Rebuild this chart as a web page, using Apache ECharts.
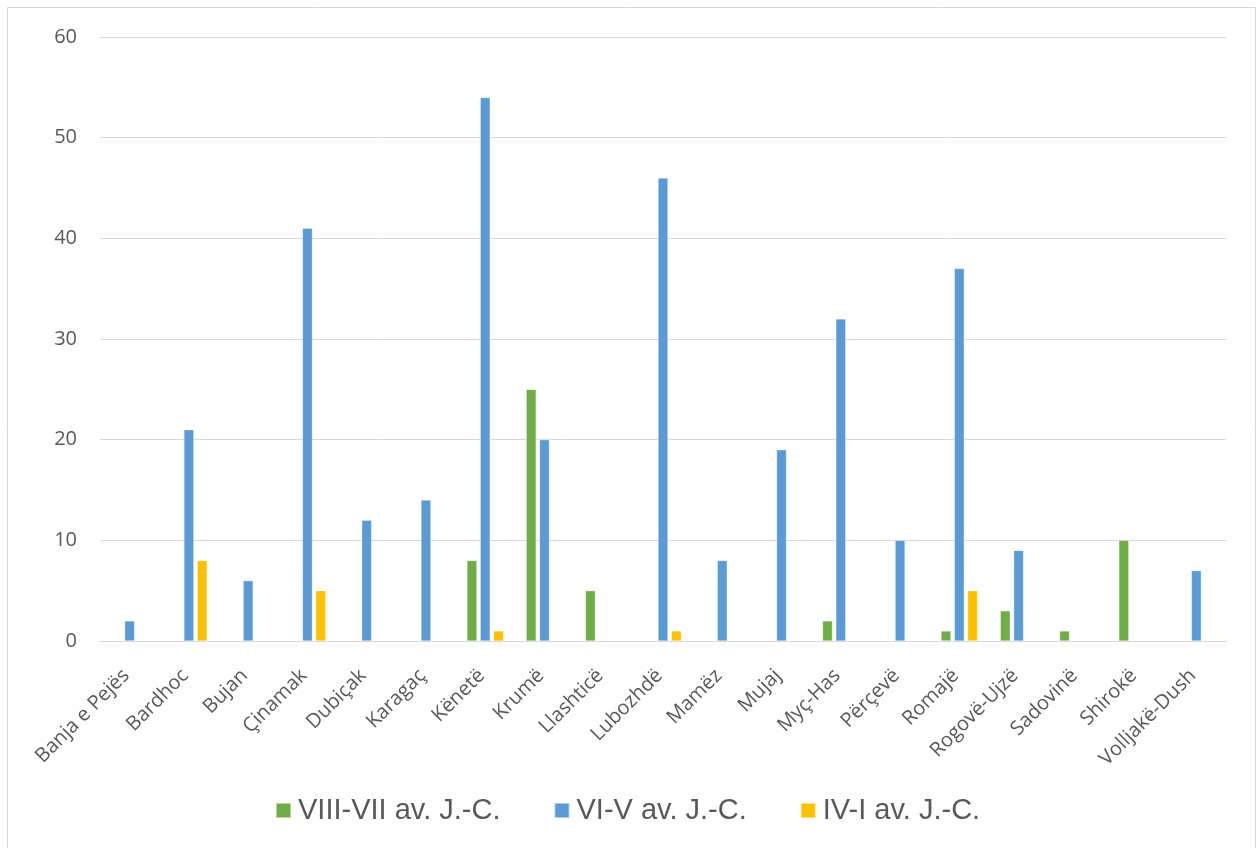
<!DOCTYPE html>
<html>
<head>
<meta charset="utf-8">
<script src="https://cdn.jsdelivr.net/npm/echarts@6/dist/echarts.min.js"></script>
<style>
html,body{margin:0;padding:0;background:#fff;}
#chart{width:1258px;height:848px;}
</style>
</head>
<body>
<div id="chart"></div>
<script>
const categories = ["Banja e Pejës","Bardhoc","Bujan","Çinamak","Dubiçak","Karagaç","Kënetë","Krumë","Llashticë","Lubozhdë","Mamëz","Mujaj","Myç-Has","Përçevë","Romajë","Rogovë-Ujzë","Sadovinë","Shirokë","Volljakë-Dush"];
const seriesNames = ["VIII-VII av. J.-C.","VI-V av. J.-C.","IV-I av. J.-C."];
const greenValues = [0,0,0,0,0,0,8,25,5,0,0,0,2,0,1,3,1,10,0];
const blueValues = [2,21,6,41,12,14,54,20,0,46,8,19,32,10,37,9,0,0,7];
const yellowValues = [0,8,0,5,0,0,1,0,0,1,0,0,0,0,5,0,0,0,0];
const yTicks = [0,10,20,30,40,50,60];

const colors = ["#70AD47","#5B9BD5","#FFC000"];
const chart = echarts.init(document.getElementById('chart'));
function mk(name, vals, color){
  return {
    name: name, type: 'bar', data: vals.map(v => v === 0 ? null : v),
    barWidth: 10, barGap: '33%',
    itemStyle: {color: color, borderColor: 'rgba(255,255,255,0.5)', borderWidth: 0.6},
    animation: false
  };
}
chart.setOption({
  animation: false,
  textStyle: {fontFamily: 'Open Sans'},
  graphic: [{
    type: 'rect', shape: {x: 7.5, y: 7.5, width: 1248, height: 850},
    style: {fill: 'none', stroke: '#d9d9d9', lineWidth: 1}, silent: true, z: -1
  }],
  grid: {left: 100, right: 32, top: 37, bottom: 207, containLabel: false},
  legend: {
    data: seriesNames, top: 791, left: 270,
    itemWidth: 15, itemHeight: 15, itemGap: 53,
    icon: 'rect',
    textStyle: {fontFamily: 'Liberation Sans', fontSize: 29, color: '#595959', padding: [0,0,0,2]}
  },
  xAxis: {
    type: 'category', data: categories,
    axisLine: {show: true, lineStyle: {color: '#d9d9d9', width: 1}},
    axisTick: {show: false},
    axisLabel: {interval: 0, rotate: 45, fontSize: 20, color: '#595959', margin: 28, padding: [0,5,0,0], fontFamily: 'Open Sans'}
  },
  yAxis: {
    type: 'value', min: yTicks[0], max: yTicks[yTicks.length-1], interval: 10,
    axisLine: {show: false}, axisTick: {show: false},
    splitLine: {lineStyle: {color: '#d9d9d9', width: 1}},
    axisLabel: {fontSize: 20, color: '#595959', margin: 23, fontFamily: 'Open Sans'}
  },
  series: [
    mk(seriesNames[0], greenValues, colors[0]),
    mk(seriesNames[1], blueValues, colors[1]),
    mk(seriesNames[2], yellowValues, colors[2])
  ]
});
</script>
</body>
</html>
